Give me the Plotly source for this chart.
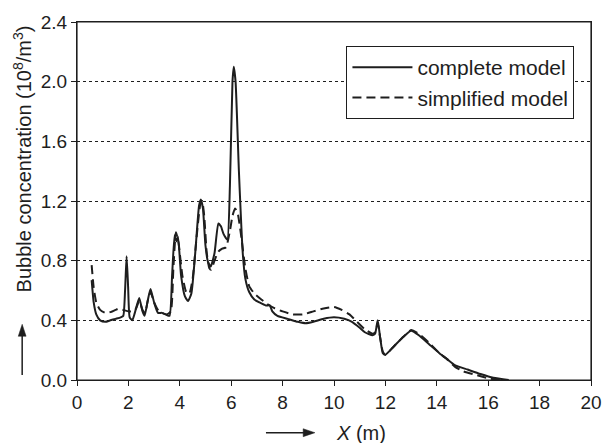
import plotly.graph_objects as go

# Complete model (solid)
x_complete = [0.57, 0.65, 0.75, 0.9, 1.1, 1.3, 1.5, 1.7, 1.8, 1.87, 1.93, 1.99, 2.05, 2.15, 2.25,
              2.42, 2.55, 2.63, 2.75, 2.86, 3.0, 3.15, 3.3, 3.45, 3.6, 3.7, 3.8, 3.87, 3.93, 4.05,
              4.2, 4.32, 4.45, 4.6, 4.75, 4.82, 4.9, 5.0, 5.1, 5.2, 5.35, 5.5, 5.6, 5.7, 5.85,
              5.95, 6.05, 6.1, 6.17, 6.3, 6.45, 6.55, 6.7, 6.9, 7.1, 7.35, 7.5, 7.6, 7.8, 8.2,
              8.6, 8.9, 9.2, 9.6, 10.0, 10.4, 10.7, 11.0, 11.2, 11.5, 11.6, 11.7, 11.8, 11.9, 12.0,
              12.3, 12.7, 13.0, 13.3, 13.7, 14.1, 14.4, 14.7, 15.2, 15.7, 16.2, 16.8]
y_complete = [0.67, 0.52, 0.44, 0.40, 0.39, 0.40, 0.41, 0.42, 0.43, 0.60, 0.83, 0.62, 0.42, 0.40, 0.45,
              0.55, 0.46, 0.43, 0.53, 0.61, 0.52, 0.45, 0.45, 0.44, 0.43, 0.70, 0.97, 0.93, 0.96, 0.70,
              0.56, 0.53, 0.58, 0.85, 1.17, 1.21, 1.15, 0.90, 0.79, 0.76, 0.85, 1.05, 1.03, 0.98, 0.94,
              1.30, 2.00, 2.10, 2.00, 1.40, 0.85, 0.68, 0.59, 0.54, 0.52, 0.50, 0.50, 0.46, 0.43, 0.41,
              0.39, 0.38, 0.39, 0.41, 0.42, 0.41, 0.39, 0.35, 0.32, 0.30, 0.31, 0.40, 0.28, 0.18, 0.17,
              0.22, 0.29, 0.33, 0.30, 0.24, 0.18, 0.14, 0.10, 0.07, 0.04, 0.015, 0.0]

# Simplified model (dashed)
x_simplified = [0.57, 0.65, 0.75, 0.9, 1.1, 1.3, 1.5, 1.65, 1.8, 2.0, 2.2, 2.3, 2.42, 2.55, 2.65,
                2.75, 2.86, 3.0, 3.15, 3.3, 3.5, 3.65, 3.75, 3.85, 3.95, 4.1, 4.25, 4.37, 4.5, 4.65,
                4.8, 4.87, 4.95, 5.05, 5.15, 5.22, 5.35, 5.5, 5.65, 5.8, 5.95, 6.05, 6.15, 6.25, 6.4,
                6.55, 6.7, 6.9, 7.1, 7.4, 7.7, 8.0, 8.4, 8.8, 9.2, 9.6, 10.0, 10.3, 10.6, 10.9,
                11.2, 11.5, 11.6, 11.7, 11.8, 11.9, 12.0, 12.3, 12.7, 13.0, 13.3, 13.7, 14.1, 14.4,
                14.7, 15.0, 15.5, 16.0, 16.5]
y_simplified = [0.77, 0.62, 0.52, 0.47, 0.45, 0.455, 0.47, 0.48, 0.47, 0.46, 0.46, 0.48, 0.53, 0.47, 0.45,
                0.53, 0.59, 0.52, 0.47, 0.45, 0.44, 0.46, 0.75, 0.99, 0.92, 0.70, 0.59, 0.58, 0.68, 0.95,
                1.18, 1.20, 1.10, 0.85, 0.75, 0.74, 0.80, 0.86, 0.88, 0.89, 1.00, 1.10, 1.15, 1.12, 0.95,
                0.75, 0.63, 0.58, 0.55, 0.51, 0.48, 0.46, 0.44, 0.44, 0.46, 0.48, 0.49, 0.47, 0.44, 0.39,
                0.34, 0.31, 0.32, 0.38, 0.28, 0.19, 0.17, 0.22, 0.29, 0.335, 0.31, 0.25, 0.18, 0.14,
                0.09, 0.06, 0.035, 0.012, 0.0]

x_ticks = [0, 2, 4, 6, 8, 10, 12, 14, 16, 18, 20]
y_ticks = [0.0, 0.4, 0.8, 1.2, 1.6, 2.0, 2.4]

FONT = "Liberation Sans, Arial, sans-serif"
INK = "#1e1e1e"

# plot area in pixels: x 77..602, y 20..380
L, R, T, B = 77, 602, 20, 380
PW, PH = R - L, B - T


def px(xp):
    return (xp - L) / PW


def py(yp):
    return (B - yp) / PH


fig = go.Figure()
fig.add_trace(go.Scatter(x=x_complete, y=y_complete, mode="lines", name="complete model",
                         line=dict(color=INK, width=2, shape="spline", smoothing=0.5)))
fig.add_trace(go.Scatter(x=x_simplified, y=y_simplified, mode="lines", name="simplified model",
                         line=dict(color=INK, width=2, dash="9px,5px", shape="spline", smoothing=0.5)))

fig.update_layout(
    width=614, height=443,
    margin=dict(l=L, r=614 - R, t=T, b=443 - B),
    paper_bgcolor="white", plot_bgcolor="white",
    font=dict(family=FONT, size=19, color=INK),
    showlegend=True,
    legend=dict(x=px(352), y=py(44), xanchor="left", yanchor="top",
                bordercolor=INK, borderwidth=1.2, bgcolor="white",
                font=dict(size=21), tracegroupgap=0, itemwidth=60),
    xaxis=dict(range=[0, 20], tickvals=x_ticks, ticks="outside", ticklen=5, tickcolor=INK,
               showline=True, linecolor=INK, linewidth=1.2, mirror=True, showgrid=False,
               zeroline=False),
    yaxis=dict(range=[0, 2.4], tickvals=y_ticks, tickformat=".1f", ticks="outside", ticklen=5,
               tickcolor=INK, showline=True, linecolor=INK, linewidth=1.2, mirror=True,
               showgrid=True, gridcolor=INK, griddash="dot", gridwidth=1, zeroline=False),
)

# plot frame
fig.add_shape(type="rect", xref="paper", yref="paper", x0=0, x1=1, y0=0, y1=1,
              line=dict(color=INK, width=1.2), layer="above")

# y-axis title and upward arrow
fig.add_annotation(xref="paper", yref="paper", x=px(21), y=py(158), xanchor="center", yanchor="middle",
                   text="Bubble concentration (10<sup>8</sup>/m<sup>3</sup>)",
                   textangle=-90, showarrow=False, font=dict(size=20))
fig.add_shape(type="line", xref="paper", yref="paper", x0=px(21), x1=px(21), y0=py(375), y1=py(334),
              line=dict(color=INK, width=1.5))
fig.add_shape(type="path", xref="paper", yref="paper",
              path=f"M {px(21)} {py(324)} L {px(17)} {py(336)} L {px(25)} {py(336)} Z",
              fillcolor=INK, line=dict(color=INK, width=0.5))

# x-axis title and rightward arrow
fig.add_shape(type="line", xref="paper", yref="paper", x0=px(270), x1=px(310), y0=py(433), y1=py(433),
              line=dict(color=INK, width=1.5))
fig.add_shape(type="path", xref="paper", yref="paper",
              path=f"M {px(320)} {py(433)} L {px(308)} {py(429)} L {px(308)} {py(437)} Z",
              fillcolor=INK, line=dict(color=INK, width=0.5))
fig.add_annotation(xref="paper", yref="paper", x=px(340), y=py(433), xanchor="left", yanchor="middle",
                   text="<i>X</i> (m)", showarrow=False, font=dict(size=20))

fig.write_html("out.html")
